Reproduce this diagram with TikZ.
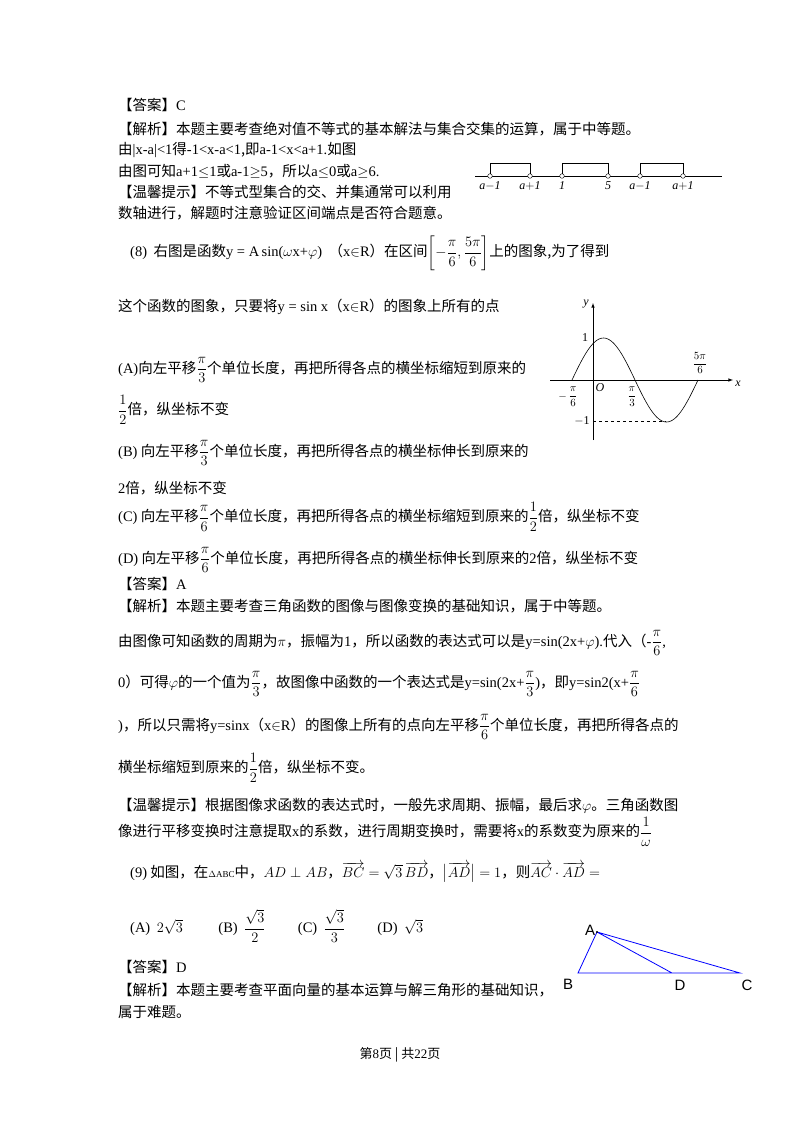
\documentclass[tikz,border=0pt]{standalone}
\usepackage{amsmath,amssymb}
\usepackage{fontspec}
\setmainfont{Noto Sans CJK SC}
\newfontfamily\lat{Liberation Serif}
\newcommand{\fr}[2]{\ensuremath{\dfrac{#1}{#2}}}
\begin{document}
\begin{tikzpicture}[x=1pt,y=-1pt,
  tx/.style={anchor=west,inner sep=0pt,font=\fontsize{14.5}{16}\selectfont},
  ax/.style={line width=0.6pt},
  nl/.style={font=\lat\fontsize{12}{13}\selectfont\itshape,inner sep=1pt}]
\useasboundingbox (0,0) rectangle (800,1132);
\node[tx] (l1) at (118,105) {【答案】{\lat C}};
\node[tx] (l2) at (118,129) {【解析】本题主要考查绝对值不等式的基本解法与集合交集的运算，属于中等题。};
\node[tx] (l3) at (118,150) {由{\lat |x-a|<1}得{\lat -1<x-a<1},即{\lat a-1<x<a+1.}如图};
\node[tx] (l4) at (118,171) {由图可知{\lat a+1$\le$1}或{\lat a-1$\ge$5}，所以{\lat a$\le$0}或{\lat a$\ge$6.}};
\node[tx] (l5) at (118,192) {【温馨提示】不等式型集合的交、并集通常可以利用};
\node[tx] (l6) at (118,213) {数轴进行，解题时注意验证区间端点是否符合题意。};
% number line
\draw[ax] (475,176) -- (722,176);
\foreach \p in {490,530,562,608,640,683}{\draw[fill=white] (\p,176) circle (2.3);}
\draw[ax] (490,174) |- (530,163) -- (530,174);
\draw[ax] (562,174) |- (608,163) -- (608,174);
\draw[ax] (640,174) |- (683,163) -- (683,174);
\node[nl] (n1) at (490,186) {a$-$1};
\node[nl] (n2) at (530,186) {a$+$1};
\node[nl] (n3) at (562,186) {1};
\node[nl] (n4) at (608,186) {5};
\node[nl] (n5) at (640,186) {a$-$1};
\node[nl] (n6) at (683,186) {a$+$1};
\node[tx] (q8) at (130,253) {{\lat (8)}\ \ 右图是函数{\lat y = A\,sin(}$\omega${\lat x+}$\varphi${\lat )}\ \ （{\lat x}$\in${\lat R}）在区间$\left[-\dfrac{\pi}{6},\dfrac{5\pi}{6}\right]$上的图象,为了得到};
\node[tx] (q8b) at (118,307) {这个函数的图象，只要将{\lat y = sin x}（{\lat x}$\in${\lat R}）的图象上所有的点};
\node[tx] (oA) at (118,370) {{\lat (A)}向左平移\fr{\pi}{3}个单位长度，再把所得各点的横坐标缩短到原来的};
\node[tx] (oA2) at (118,410) {\fr{1}{2}倍，纵坐标不变};
\node[tx] (oB) at (118,453) {{\lat (B)} 向左平移\fr{\pi}{3}个单位长度，再把所得各点的横坐标伸长到原来的};
\node[tx] (oB2) at (118,488) {{\lat 2}倍，纵坐标不变};
\node[tx] (oC) at (118,517) {{\lat (C)} 向左平移\fr{\pi}{6}个单位长度，再把所得各点的横坐标缩短到原来的\fr{1}{2}倍，纵坐标不变};
\node[tx] (oD) at (118,560) {{\lat (D)} 向左平移\fr{\pi}{6}个单位长度，再把所得各点的横坐标伸长到原来的{\lat 2}倍，纵坐标不变};
% graph
\draw[ax,-latex] (550,380) -- (733,380);
\draw[ax,-latex] (593,440) -- (593,303);
\draw[line width=0.6pt,domain=-1:5,samples=80] plot ({593+21*\x},{380-42*sin(60*\x+60)});
\draw[dashed,line width=0.5pt] (593,421) -- (666,421);
\node[nl] (gy) at (586,304) {y};
\node[nl] (gx) at (738,384) {x};
\node[nl,font=\lat\fontsize{12}{13}\selectfont] (g1) at (585,338) {1};
\node[nl,font=\lat\fontsize{12}{13}\selectfont] (gm1) at (582,421) {$-$1};
\node[nl] (gO) at (600,388) {O};
\node[inner sep=0pt,font=\fontsize{11}{12}\selectfont] (gp6) at (568,397) {$-\,\dfrac{\pi}{6}$};
\node[inner sep=0pt,font=\fontsize{11}{12}\selectfont] (gp3) at (632,397) {$\dfrac{\pi}{3}$};
\node[inner sep=0pt,font=\fontsize{11}{12}\selectfont] (gp5) at (700,363) {$\dfrac{5\pi}{6}$};
% answer 8
\node[tx] (a1) at (118,584) {【答案】{\lat A}};
\node[tx] (a2) at (118,606) {【解析】本题主要考查三角函数的图像与图像变换的基础知识，属于中等题。};
\node[tx] (a3) at (118,643) {由图像可知函数的周期为$\pi$，振幅为{\lat 1}，所以函数的表达式可以是{\lat y=sin(2x+}$\varphi${\lat ).}代入（{\lat -}\fr{\pi}{6}{\lat ,}};
\node[tx] (a4) at (118,684) {{\lat 0}）可得$\varphi$的一个值为\fr{\pi}{3}，故图像中函数的一个表达式是{\lat y=sin(2x+}\fr{\pi}{3}{\lat )}，即{\lat y=sin2(x+}\fr{\pi}{6}};
\node[tx] (a5) at (118,727) {{\lat )}，所以只需将{\lat y=sinx}（{\lat x}$\in${\lat R}）的图像上所有的点向左平移\fr{\pi}{6}个单位长度，再把所得各点的};
\node[tx] (a6) at (118,768) {横坐标缩短到原来的\fr{1}{2}倍，纵坐标不变。};
\node[tx] (a7) at (118,806) {【温馨提示】根据图像求函数的表达式时，一般先求周期、振幅，最后求$\varphi$。三角函数图};
\node[tx] (a8) at (118,832) {像进行平移变换时注意提取{\lat x}的系数，进行周期变换时，需要将{\lat x}的系数变为原来的\fr{1}{\omega}};
% q9
\node[tx] (q9) at (130,872) {{\lat (9)} 如图，在{\lat\small $\Delta$ABC}中，$AD\perp AB$，$\overrightarrow{BC}=\sqrt3\,\overrightarrow{BD}$，$\bigl|\overrightarrow{AD}\bigr|=1$，则$\overrightarrow{AC}\cdot\overrightarrow{AD}=$};
\node[tx] (q9o) at (130,926) {{\lat (A)}\ \ $2\sqrt3$\qquad\ \ {\lat (B)}\ \ $\dfrac{\sqrt3}{2}$\qquad\ {\lat (C)}\ \ $\dfrac{\sqrt3}{3}$\qquad\ {\lat (D)}\ \ $\sqrt3$};
\coordinate (A) at (597,932);
\coordinate (B) at (578,973);
\coordinate (D) at (672,973);
\coordinate (C) at (740,973);
\draw[blue,line width=0.8pt] (A) -- (B) -- (C) -- cycle (A) -- (D);
\fill (A) circle (1.2);
\node[font=\fontfamily{}\fontspec{Liberation Sans}\fontsize{15}{16}\selectfont] (lA) at (590,930) {A};
\node[font=\fontspec{Liberation Sans}\fontsize{15}{16}\selectfont] (lB) at (568,984) {B};
\node[font=\fontspec{Liberation Sans}\fontsize{15}{16}\selectfont] (lD) at (680,985) {D};
\node[font=\fontspec{Liberation Sans}\fontsize{15}{16}\selectfont] (lC) at (747,985) {C};
\node[tx] (b1) at (118,967) {【答案】{\lat D}};
\node[tx] (b2) at (118,990) {【解析】本题主要考查平面向量的基本运算与解三角形的基础知识，};
\node[tx] (b3) at (118,1012) {属于难题。};
\node[font=\fontsize{13}{14}\selectfont] (pg) at (400,1055) {第{\lat 8}页 | 共{\lat 22}页};
\end{tikzpicture}
\end{document}
